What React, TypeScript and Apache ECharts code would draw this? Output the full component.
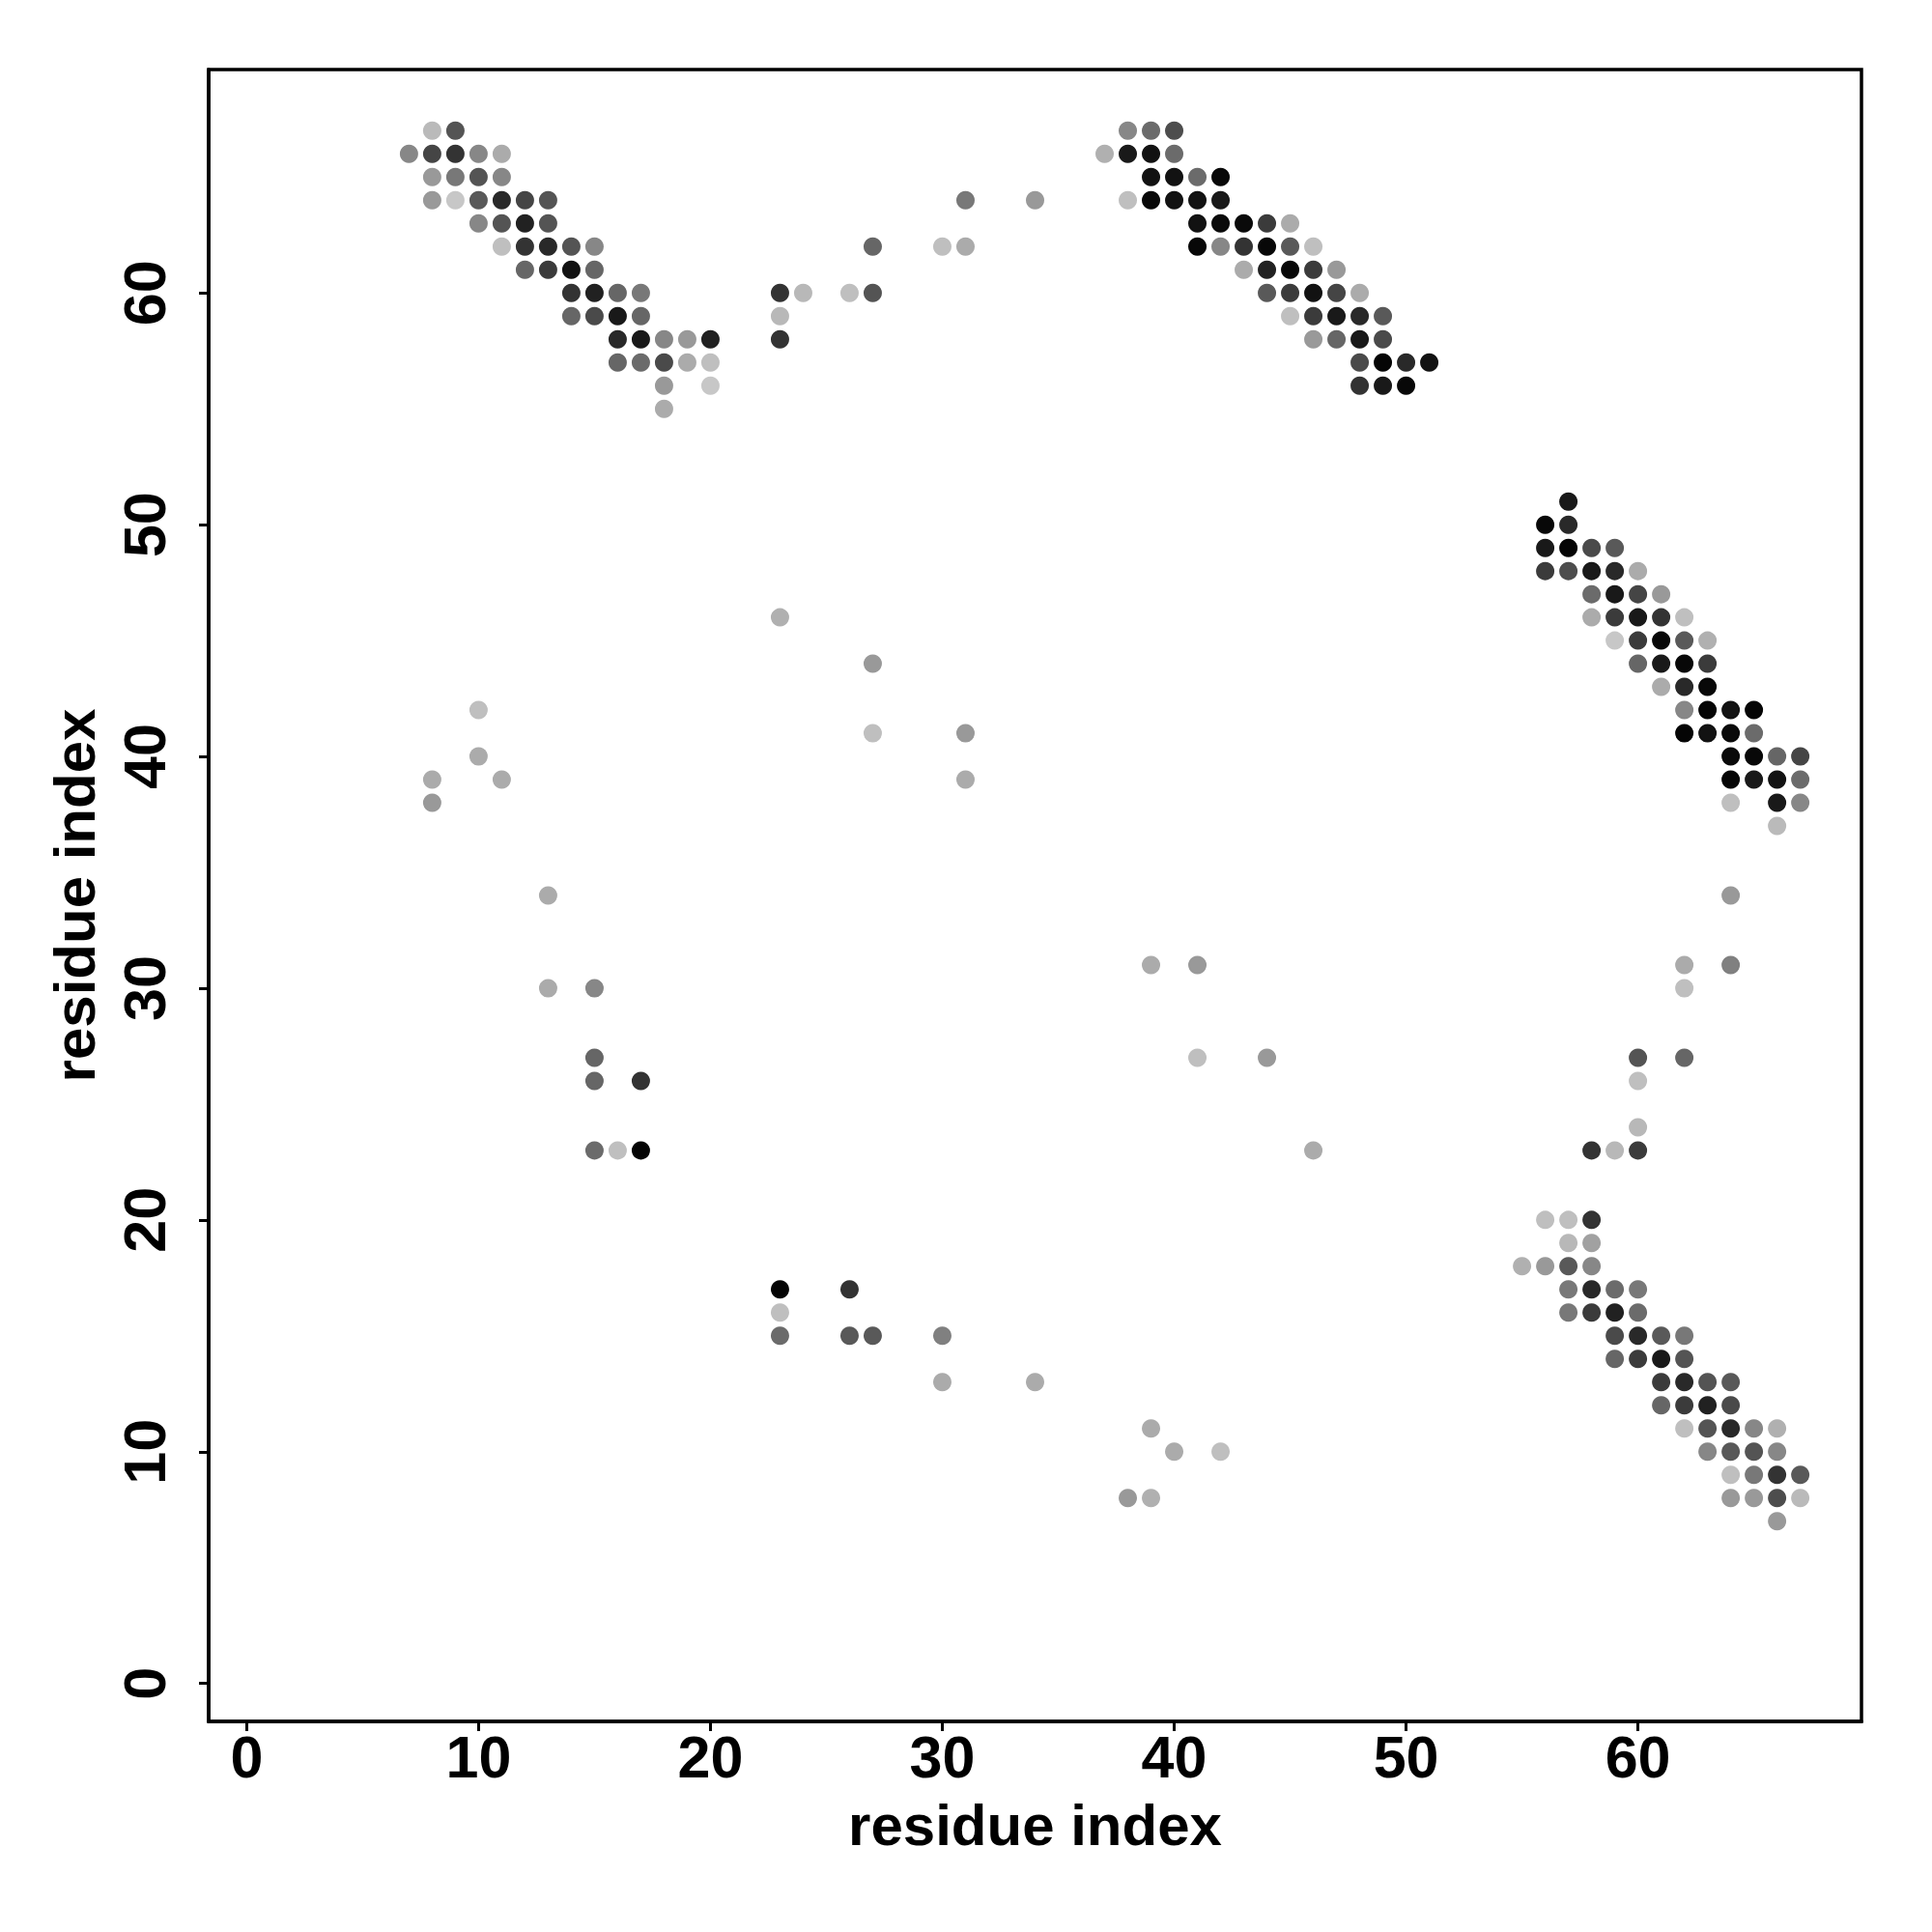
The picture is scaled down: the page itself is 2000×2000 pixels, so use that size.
import React, { useEffect, useRef } from "react";
import * as echarts from "echarts";

// [residue i, residue j, contact score 0..1]
const blockTopLeft: [number, number, number][] = [
  [8, 67, 0.27], [9, 67, 0.67],
  [7, 66, 0.47], [8, 66, 0.73], [9, 66, 0.8], [10, 66, 0.47], [11, 66, 0.33],
  [8, 65, 0.4], [9, 65, 0.53], [10, 65, 0.67], [11, 65, 0.47],
  [8, 64, 0.4], [9, 64, 0.22], [10, 64, 0.65], [11, 64, 0.84], [12, 64, 0.73], [13, 64, 0.67],
  [10, 63, 0.47], [11, 63, 0.67], [12, 63, 0.87], [13, 63, 0.67],
  [11, 62, 0.25], [12, 62, 0.8], [13, 62, 0.84], [14, 62, 0.67], [15, 62, 0.47],
  [12, 61, 0.6], [13, 61, 0.77], [14, 61, 0.93], [15, 61, 0.6],
  [14, 60, 0.8], [15, 60, 0.87], [16, 60, 0.6], [17, 60, 0.53],
  [14, 59, 0.6], [15, 59, 0.71], [16, 59, 0.9], [17, 59, 0.6],
  [16, 58, 0.84], [17, 58, 0.9], [18, 58, 0.47], [19, 58, 0.4], [20, 58, 0.87],
  [16, 57, 0.6], [17, 57, 0.58], [18, 57, 0.71], [19, 57, 0.33], [20, 57, 0.25],
  [18, 56, 0.4], [20, 56, 0.22],
  [18, 55, 0.33],
];

const blockTopMiddle: [number, number, number][] = [
  [23, 60, 0.8], [24, 60, 0.28], [26, 60, 0.25], [27, 60, 0.67],
  [23, 59, 0.28], [23, 58, 0.8],
  [27, 62, 0.6], [30, 62, 0.25], [31, 62, 0.33],
  [31, 64, 0.53], [34, 64, 0.4],
];

const blockTopRight: [number, number, number][] = [
  [38, 67, 0.47], [39, 67, 0.58], [40, 67, 0.7],
  [37, 66, 0.31], [38, 66, 0.9], [39, 66, 0.93], [40, 66, 0.58],
  [39, 65, 0.93], [40, 65, 0.93], [41, 65, 0.58], [42, 65, 0.97],
  [38, 64, 0.25], [39, 64, 0.97], [40, 64, 0.93], [41, 64, 0.93], [42, 64, 0.9],
  [41, 63, 0.93], [42, 63, 0.96], [43, 63, 0.96], [44, 63, 0.77], [45, 63, 0.33],
  [41, 62, 0.97], [42, 62, 0.47], [43, 62, 0.8], [44, 62, 0.97], [45, 62, 0.65], [46, 62, 0.25],
  [43, 61, 0.33], [44, 61, 0.87], [45, 61, 0.97], [46, 61, 0.77], [47, 61, 0.4],
  [44, 60, 0.65], [45, 60, 0.77], [46, 60, 0.93], [47, 60, 0.73], [48, 60, 0.33],
  [45, 59, 0.25], [46, 59, 0.77], [47, 59, 0.9], [48, 59, 0.84], [49, 59, 0.65],
  [46, 58, 0.4], [47, 58, 0.6], [48, 58, 0.9], [49, 58, 0.71],
  [48, 57, 0.71], [49, 57, 0.98], [50, 57, 0.84], [51, 57, 0.93],
  [48, 56, 0.8], [49, 56, 0.9], [50, 56, 0.97],
];

const blockRightMiddle: [number, number, number][] = [
  [57, 51, 0.9],
  [56, 50, 0.97], [57, 50, 0.84],
  [56, 49, 0.9], [57, 49, 0.98], [58, 49, 0.71], [59, 49, 0.65],
  [56, 48, 0.77], [57, 48, 0.7], [58, 48, 0.9], [59, 48, 0.84], [60, 48, 0.33],
  [58, 47, 0.58], [59, 47, 0.9], [60, 47, 0.73], [61, 47, 0.4],
  [58, 46, 0.33], [59, 46, 0.77], [60, 46, 0.9], [61, 46, 0.8], [62, 46, 0.25],
  [59, 45, 0.22], [60, 45, 0.77], [61, 45, 0.97], [62, 45, 0.65], [63, 45, 0.31],
  [60, 44, 0.6], [61, 44, 0.9], [62, 44, 0.97], [63, 44, 0.77],
  [61, 43, 0.33], [62, 43, 0.84], [63, 43, 0.97],
  [62, 42, 0.47], [63, 42, 0.98], [64, 42, 0.93], [65, 42, 0.98],
  [62, 41, 0.98], [63, 41, 0.93], [64, 41, 0.96], [65, 41, 0.58],
  [64, 40, 0.96], [65, 40, 0.97], [66, 40, 0.6], [67, 40, 0.73],
  [64, 39, 0.98], [65, 39, 0.9], [66, 39, 0.93], [67, 39, 0.58],
  [64, 38, 0.25], [66, 38, 0.9], [67, 38, 0.47],
  [66, 37, 0.27],
];

const blockBottomRight: [number, number, number][] = [
  [56, 20, 0.25], [57, 20, 0.25], [58, 20, 0.8],
  [57, 19, 0.28], [58, 19, 0.37],
  [55, 18, 0.31], [56, 18, 0.4], [57, 18, 0.65], [58, 18, 0.47],
  [57, 17, 0.53], [58, 17, 0.84], [59, 17, 0.58], [60, 17, 0.53],
  [57, 16, 0.53], [58, 16, 0.77], [59, 16, 0.87], [60, 16, 0.58],
  [59, 15, 0.71], [60, 15, 0.84], [61, 15, 0.65], [62, 15, 0.53],
  [59, 14, 0.6], [60, 14, 0.77], [61, 14, 0.9], [62, 14, 0.67],
  [61, 13, 0.77], [62, 13, 0.84], [63, 13, 0.67], [64, 13, 0.65],
  [61, 12, 0.6], [62, 12, 0.77], [63, 12, 0.87], [64, 12, 0.71],
  [62, 11, 0.25], [63, 11, 0.67], [64, 11, 0.84], [65, 11, 0.47], [66, 11, 0.31],
  [63, 10, 0.47], [64, 10, 0.65], [65, 10, 0.67], [66, 10, 0.47],
  [64, 9, 0.25], [65, 9, 0.53], [66, 9, 0.8], [67, 9, 0.65],
  [64, 8, 0.4], [65, 8, 0.4], [66, 8, 0.7], [67, 8, 0.27],
  [66, 7, 0.4],
];

const scattered: [number, number, number][] = [
  [10, 42, 0.25], [10, 40, 0.33], [8, 39, 0.33], [11, 39, 0.33], [8, 38, 0.4],
  [13, 34, 0.33], [13, 30, 0.33], [15, 30, 0.47], [15, 27, 0.6], [15, 26, 0.6], [17, 26, 0.8],
  [15, 23, 0.58], [16, 23, 0.25], [17, 23, 0.98],
  [23, 46, 0.31], [27, 44, 0.4], [27, 41, 0.25], [31, 41, 0.4], [31, 39, 0.33],
  [23, 17, 0.98], [26, 17, 0.8], [23, 16, 0.25], [23, 15, 0.58], [26, 15, 0.65], [27, 15, 0.65],
  [30, 15, 0.5], [30, 13, 0.33], [34, 13, 0.33],
  [39, 11, 0.33], [40, 10, 0.33], [42, 10, 0.25], [38, 8, 0.4], [39, 8, 0.31],
  [39, 31, 0.33], [41, 31, 0.4], [41, 27, 0.25], [44, 27, 0.4], [46, 23, 0.33],
  [64, 34, 0.4], [62, 31, 0.33], [64, 31, 0.5], [62, 30, 0.25], [60, 27, 0.67], [62, 27, 0.6],
  [60, 26, 0.25], [60, 24, 0.28], [58, 23, 0.8], [59, 23, 0.28], [60, 23, 0.77],
];

const tickValues = [0, 10, 20, 30, 40, 50, 60];
const axisMin = -1.64;
const axisMax = 69.64;
const axisTitle = "residue index";

const FONT = "'Liberation Sans', Arial, Helvetica, sans-serif";

function grayFor(score: number): string {
  const g = Math.round(255 * (1 - score));
  return `rgb(${g},${g},${g})`;
}

export default function App() {
  const ref = useRef<HTMLDivElement>(null);

  useEffect(() => {
    document.body.style.margin = "0";
    if (!ref.current) return;
    const chart = echarts.init(ref.current, undefined, { renderer: "svg" });
    const all = [
      ...blockTopLeft,
      ...blockTopMiddle,
      ...blockTopRight,
      ...blockRightMiddle,
      ...blockBottomRight,
      ...scattered,
    ];
    const axisCommon = {
      type: "value" as const,
      min: axisMin,
      max: axisMax,
      splitLine: { show: false },
      axisLine: { show: true, onZero: false, lineStyle: { color: "#000", width: 3.5 } },
      axisTick: {
        show: true,
        length: 10,
        inside: false,
        customValues: tickValues,
        lineStyle: { color: "#000", width: 3 },
      },
      name: axisTitle,
      nameLocation: "middle" as const,
      nameTextStyle: {
        fontSize: 60,
        fontWeight: "bold" as const,
        fontFamily: FONT,
        color: "#000",
      },
    };
    chart.setOption({
      animation: false,
      backgroundColor: "#fff",
      grid: {
        left: 216,
        right: 73,
        top: 72,
        bottom: 218,
        show: true,
        borderColor: "#000",
        borderWidth: 3.5,
        backgroundColor: "transparent",
      },
      xAxis: {
        ...axisCommon,
        nameGap: 77,
        axisLabel: {
          customValues: tickValues,
          fontSize: 61,
          fontWeight: "bold",
          fontFamily: FONT,
          color: "#000",
          margin: 6,
        },
      },
      yAxis: {
        ...axisCommon,
        nameGap: 109,
        axisLabel: {
          customValues: tickValues,
          rotate: 90,
          fontSize: 61,
          fontWeight: "bold",
          fontFamily: FONT,
          color: "#000",
          margin: 36,
        },
      },
      series: [
        {
          type: "scatter",
          symbol: "circle",
          symbolSize: 19,
          data: all.map((d) => ({
            value: [d[0], d[1]],
            itemStyle: { color: grayFor(d[2]), opacity: 1 },
          })),
        },
      ],
    });
    return () => chart.dispose();
  }, []);

  return <div ref={ref} style={{ width: 2000, height: 2000 }} />;
}
